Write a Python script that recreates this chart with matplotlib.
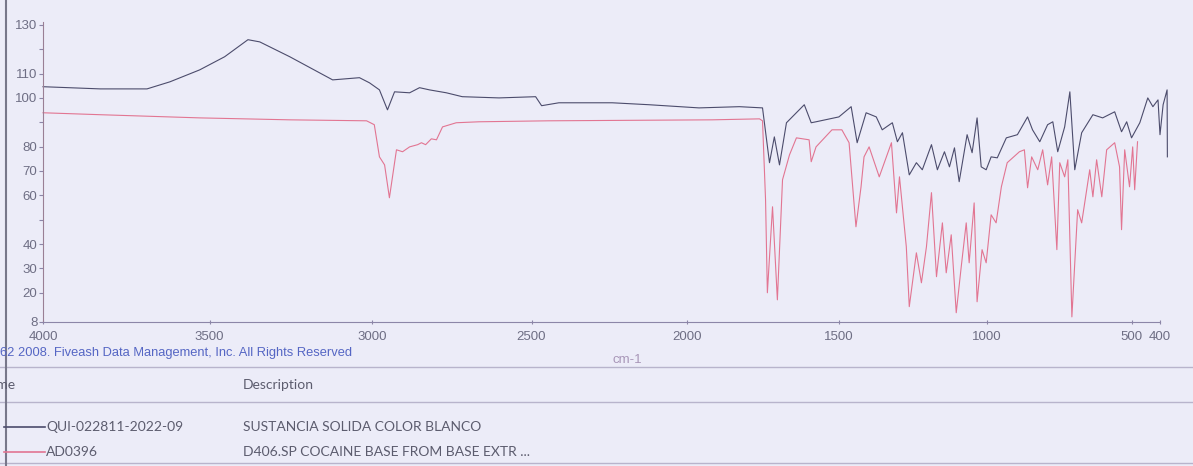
import numpy as np
import matplotlib
matplotlib.use('Agg')
import matplotlib.pyplot as plt
from matplotlib.lines import Line2D

# FT-IR overlay: sample spectrum vs. library reference (%T vs wavenumber)
sample_wn = [4000, 3829, 3689, 3620, 3530, 3454, 3383, 3347, 3255, 3123,
             3040, 3009, 2978, 2953, 2931, 2884, 2853, 2822, 2769, 2719,
             2603, 2487, 2468, 2413, 2242, 2123, 1961, 1829, 1753, 1730,
             1714, 1697, 1674, 1615, 1592, 1576, 1500, 1459, 1439, 1409,
             1375, 1355, 1321, 1304, 1287, 1264, 1240, 1220, 1189, 1169,
             1145, 1128, 1111, 1095, 1068, 1051, 1034, 1020, 1003, 986,
             965, 934, 896, 861, 844, 819, 792, 774, 757, 733,
             715, 698, 674, 635, 601, 559, 535, 517, 500, 471,
             443, 425, 407, 400, 389, 375, 374]
sample_t = [104.6, 103.7, 103.7, 106.6, 111.5, 116.9, 123.9, 123.0, 116.9, 107.4,
            108.3, 106.2, 103.3, 95.1, 102.5, 102.1, 104.2, 103.3, 102.1, 100.5,
            100.0, 100.5, 96.8, 98.0, 98.0, 97.2, 95.9, 96.4, 95.9, 73.4,
            84.0, 72.5, 89.8, 97.2, 89.8, 90.2, 92.2, 96.4, 81.6, 93.9,
            92.2, 86.9, 89.8, 82.0, 85.7, 68.4, 73.4, 70.5, 80.8, 70.5,
            77.9, 71.7, 79.5, 65.6, 84.9, 77.5, 91.8, 71.7, 70.5, 75.8,
            75.4, 83.6, 84.9, 92.2, 86.9, 82.0, 89.0, 90.2, 77.9, 88.1,
            102.5, 70.5, 85.7, 93.1, 91.8, 94.3, 86.1, 90.2, 83.6, 89.8,
            100.0, 96.4, 99.2, 84.9, 97.2, 103.3, 75.8]

ref_wn = [4000, 3829, 3530, 3255, 3018, 2994, 2978, 2962, 2947, 2925,
          2906, 2884, 2859, 2847, 2834, 2816, 2800, 2781, 2738, 2666,
          2445, 1918, 1763, 1753, 1743, 1737, 1720, 1704, 1687, 1664,
          1641, 1599, 1592, 1576, 1523, 1490, 1466, 1443, 1426, 1416,
          1399, 1365, 1341, 1324, 1307, 1297, 1274, 1264, 1240, 1223,
          1206, 1189, 1172, 1152, 1139, 1122, 1105, 1088, 1071, 1061,
          1044, 1034, 1017, 1003, 986, 969, 951, 931, 889, 872,
          861, 847, 826, 809, 792, 778, 760, 750, 733, 722,
          708, 688, 674, 646, 635, 622, 604, 587, 559, 542,
          535, 524, 507, 496, 489, 479]
ref_t = [93.9, 93.1, 91.8, 91.0, 90.6, 89.0, 75.8, 72.5, 59.0, 78.7,
         77.9, 79.9, 80.8, 81.6, 80.8, 83.2, 82.8, 88.1, 89.8, 90.2,
         90.6, 91.0, 91.4, 90.6, 58.2, 20.0, 55.3, 17.1, 66.4, 76.6,
         83.6, 82.8, 73.8, 79.9, 86.9, 86.9, 81.6, 47.1, 63.5, 75.8,
         79.9, 67.6, 75.8, 81.6, 52.8, 67.6, 38.9, 14.3, 36.4, 24.1,
         38.9, 61.1, 26.6, 48.7, 28.2, 43.8, 11.8, 30.7, 48.7, 32.3,
         56.9, 16.3, 37.7, 32.3, 52.0, 48.7, 63.5, 73.4, 77.9, 78.7,
         63.1, 75.8, 70.5, 78.7, 64.3, 75.8, 37.7, 73.4, 67.6, 74.6,
         10.1, 54.1, 48.7, 70.5, 59.4, 74.6, 59.4, 78.7, 81.6, 71.7,
         45.9, 78.7, 63.5, 79.9, 62.3, 82.0]

x_ticks = [4000, 3500, 3000, 2500, 2000, 1500, 1000, 500, 400]
y_ticks = [8, 20, 30, 40, 50, 60, 70, 80, 90, 100, 110, 120, 130]
y_labels = ['8', '20', '30', '40', '', '60', '70', '80', '', '100', '110', '', '130']

names = ['Name', 'QUI-022811-2022-09', 'AD0396']
descriptions = ['Description', 'SUSTANCIA SOLIDA COLOR BLANCO',
                'D406.SP COCAINE BASE FROM BASE EXTR ...']

BG = '#ececf8'
SAMPLE_COL = '#4c4c6c'
REF_COL = '#e27592'
TXT = '#5c5c6e'

W, H = 1193, 466


def fx(px):
    return px / W


def fy(py):
    return 1 - py / H


# x axis gets slightly wider at the high wavenumber end
K = 2.18e-5


def fwd(w):
    d = 4000.0 - np.asarray(w, dtype=float)
    return -(d - K * d * d)


def inv(u):
    v = np.clip(-np.asarray(u, dtype=float), None, 1 / (4 * K) - 1)
    d = (1 - np.sqrt(1 - 4 * K * v)) / (2 * K)
    return 4000.0 - d


plt.rcParams['font.family'] = ['Liberation Sans', 'DejaVu Sans']

fig = plt.figure(figsize=(W / 100, H / 100), dpi=100, facecolor=BG)
ax = fig.add_axes([fx(43), fy(322), (1160 - 43) / W, (322 - 22.4) / H])
ax.set_facecolor(BG)

ax.set_xscale('function', functions=(fwd, inv))
ax.plot(ref_wn, ref_t, color=REF_COL, lw=0.8, clip_on=False)
ax.plot(sample_wn, sample_t, color=SAMPLE_COL, lw=0.8, clip_on=False)

ax.set_xlim(4000, 400)
ax.set_ylim(8, 131)
ax.set_xticks(x_ticks)
ax.set_xticklabels([str(t) for t in x_ticks])
ax.set_yticks(y_ticks)
ax.set_yticklabels(y_labels)
ax.minorticks_off()

for s in ['top', 'right']:
    ax.spines[s].set_visible(False)
ax.spines['left'].set_color('#9a7f95')
ax.spines['bottom'].set_color('#8c86a8')
ax.tick_params(axis='both', colors='#8c86a8', labelcolor='#6e6e84',
               labelsize=9.5, length=3, width=0.8)
ax.tick_params(axis='x', direction='inout', pad=5)
ax.tick_params(axis='y', pad=1)

# footer: copyright, units, table of spectra
fig.text(fx(0), fy(353), '62 2008. Fiveash Data Management, Inc. All Rights Reserved',
         color='#5566c4', fontsize=9.3, va='center', ha='left')
fig.text(fx(627), fy(360), 'cm-1', color='#a896b8', fontsize=9.5, va='center', ha='center')

for yy in [367, 402, 463]:
    fig.add_artist(Line2D([0, 1], [fy(yy), fy(yy)], color='#b8b4cc', lw=1,
                          transform=fig.transFigure))
fig.add_artist(Line2D([fx(6), fx(6)], [0, 1], color='#77778a', lw=1.5,
                      transform=fig.transFigure))

# the "Name" header column starts left of the visible area
fig.text(fx(-20), fy(385), names[0], color=TXT, fontsize=10, va='center',
         ha='left', family=['Lato', 'DejaVu Sans'])
fig.text(fx(243), fy(385), descriptions[0], color=TXT, fontsize=10, va='center',
         ha='left', family=['Lato', 'DejaVu Sans'])

for i, col in enumerate([SAMPLE_COL, REF_COL]):
    yy = 427 + 25 * i
    fig.add_artist(Line2D([fx(4), fx(45)], [fy(yy), fy(yy)], color=col, lw=1.2,
                          transform=fig.transFigure))
    fig.text(fx(46), fy(yy), names[i + 1], color=TXT, fontsize=10, va='center',
             ha='left', family=['Lato', 'DejaVu Sans'])
    fig.text(fx(243), fy(yy), descriptions[i + 1], color=TXT, fontsize=10,
             va='center', ha='left', family=['Lato', 'DejaVu Sans'])

fig.savefig('out.png', dpi=100, facecolor=BG)
